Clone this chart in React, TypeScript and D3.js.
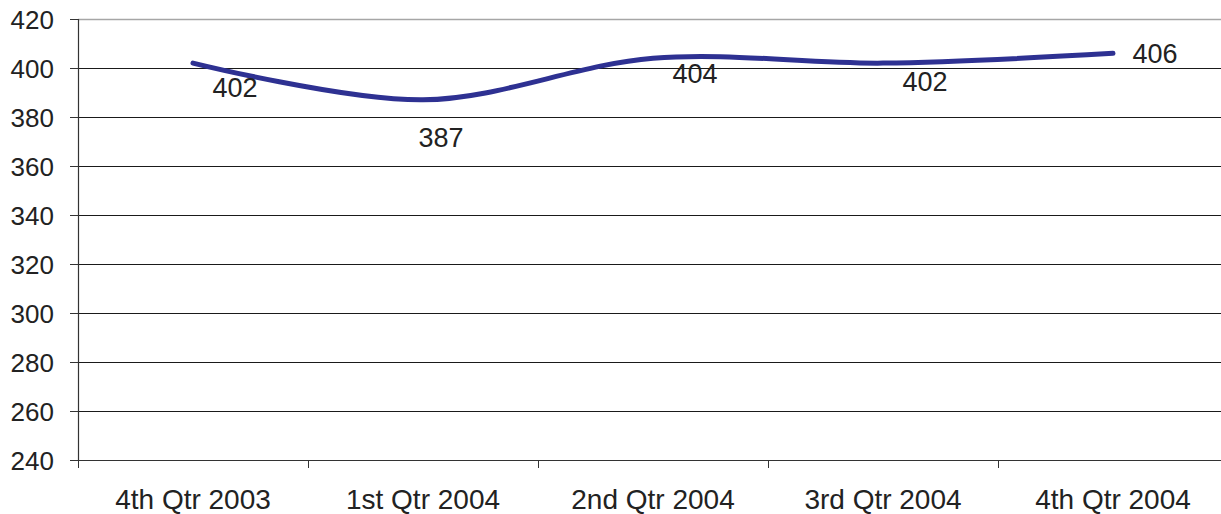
import { useEffect, useRef } from "react"
import * as d3 from "d3"

const CATEGORIES = ["4th Qtr 2003", "1st Qtr 2004", "2nd Qtr 2004", "3rd Qtr 2004", "4th Qtr 2004"]
const VALUES = [402, 387, 404, 402, 406]
const Y_TICKS = [240, 260, 280, 300, 320, 340, 360, 380, 400, 420]

const WIDTH = 1221
const HEIGHT = 514
const MARGIN = { top: 19, right: -7, bottom: 54, left: 78 }
const FONT = "Liberation Sans, Arial, Helvetica, sans-serif"

// label placement relative to each point (dx, dy to baseline), like Excel put them
const LABEL_OFFSETS: [number, number][] = [
  [42, 34],
  [18, 47],
  [42, 25],
  [42, 28],
  [42, 10],
]

export default function App() {
  const svgRef = useRef<SVGSVGElement>(null)

  useEffect(() => {
    if (!svgRef.current) return
    const svg = d3.select(svgRef.current)
    svg.selectAll("*").remove()

    const x0 = MARGIN.left
    const x1 = WIDTH - MARGIN.right
    const y0 = HEIGHT - MARGIN.bottom

    const x = d3.scaleBand().domain(CATEGORIES).range([x0, x1]).paddingInner(0).paddingOuter(0)
    const y = d3.scaleLinear().domain([240, 420]).range([y0, MARGIN.top])
    const cx = (c: string) => (x(c) as number) + x.bandwidth() / 2

    // gridlines
    svg
      .append("g")
      .selectAll("line")
      .data(Y_TICKS.filter((t) => t > 240))
      .join("line")
      .attr("x1", x0)
      .attr("x2", x1)
      .attr("y1", (d) => Math.round(y(d)) + 0.5)
      .attr("y2", (d) => Math.round(y(d)) + 0.5)
      .attr("stroke", (d) => (d === 420 ? "#a6a6a6" : "#1a1a1a"))
      .attr("stroke-width", (d) => (d === 420 ? 1.5 : 1))

    // y axis
    svg
      .append("line")
      .attr("x1", x0 + 0.5)
      .attr("x2", x0 + 0.5)
      .attr("y1", MARGIN.top)
      .attr("y2", y0)
      .attr("stroke", "#333")
      .attr("stroke-width", 1.2)

    const yt = svg.append("g")
    yt.selectAll("line")
      .data(Y_TICKS)
      .join("line")
      .attr("x1", x0 - 8)
      .attr("x2", x0)
      .attr("y1", (d) => Math.round(y(d)) + 0.5)
      .attr("y2", (d) => Math.round(y(d)) + 0.5)
      .attr("stroke", "#333")
    yt.selectAll("text")
      .data(Y_TICKS)
      .join("text")
      .attr("x", 54)
      .attr("y", (d) => y(d) + 9.5)
      .attr("text-anchor", "end")
      .attr("font-family", FONT)
      .attr("font-size", "26px")
      .attr("fill", "#222")
      .text((d) => d)

    // x axis
    svg
      .append("line")
      .attr("x1", x0)
      .attr("x2", x1)
      .attr("y1", Math.round(y0) + 0.5)
      .attr("y2", Math.round(y0) + 0.5)
      .attr("stroke", "#333")
      .attr("stroke-width", 1.2)

    const xt = svg.append("g")
    xt.selectAll("line")
      .data(CATEGORIES)
      .join("line")
      .attr("x1", (d) => Math.round(x(d) as number) + 0.5)
      .attr("x2", (d) => Math.round(x(d) as number) + 0.5)
      .attr("y1", y0)
      .attr("y2", y0 + 8)
      .attr("stroke", "#333")
    xt.selectAll("text")
      .data(CATEGORIES)
      .join("text")
      .attr("x", (d) => cx(d))
      .attr("y", 509)
      .attr("text-anchor", "middle")
      .attr("font-family", FONT)
      .attr("font-size", "28px")
      .attr("fill", "#222")
      .text((d) => d)

    // line
    const line = d3
      .line<number>()
      .x((_, i) => cx(CATEGORIES[i]))
      .y((d) => y(d))
      .curve(d3.curveCardinal.tension(0))

    svg
      .append("path")
      .datum(VALUES)
      .attr("fill", "none")
      .attr("stroke", "#2e3192")
      .attr("stroke-width", 5)
      .attr("stroke-linecap", "round")
      .attr("stroke-linejoin", "round")
      .attr("d", line)

    // data labels
    svg
      .append("g")
      .selectAll("text")
      .data(VALUES)
      .join("text")
      .attr("x", (_, i) => cx(CATEGORIES[i]) + LABEL_OFFSETS[i][0])
      .attr("y", (d, i) => y(d) + LABEL_OFFSETS[i][1])
      .attr("text-anchor", "middle")
      .attr("font-family", FONT)
      .attr("font-size", "27px")
      .attr("fill", "#222")
      .text((d) => d)
  }, [])

  return (
    <svg
      ref={svgRef}
      width={WIDTH}
      height={HEIGHT}
      style={{ position: "absolute", left: 0, top: 0, background: "#fff" }}
    />
  )
}
